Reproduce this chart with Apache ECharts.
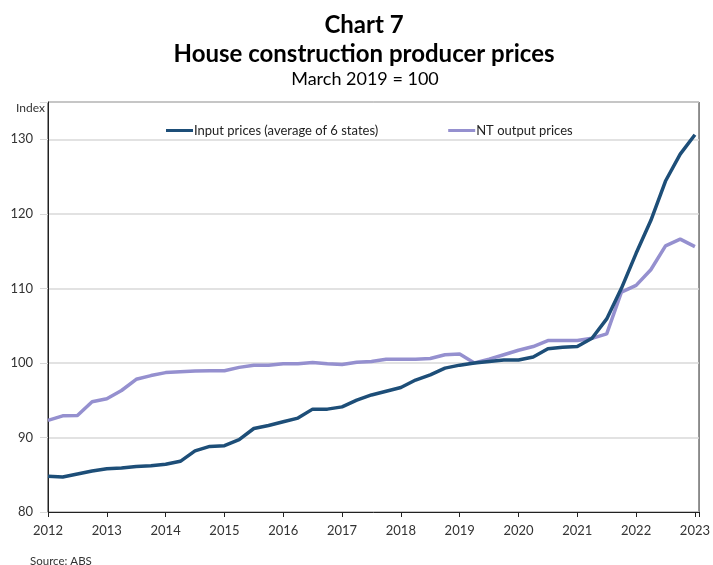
<!DOCTYPE html>
<html>
<head>
<meta charset="utf-8">
<title>Chart 7</title>
<script src="https://cdn.jsdelivr.net/npm/echarts@6/dist/echarts.min.js"></script>
<style>
  html, body { margin: 0; padding: 0; background: #fff; }
  #chart { width: 713px; height: 565px; }
</style>
</head>
<body>
<div id="chart"></div>
<script>
// quarterly index, March 2019 = 100, first point sits on the 2012 tick
var startYear = 2012
var yearTicks = [2012, 2013, 2014, 2015, 2016, 2017, 2018, 2019, 2020, 2021, 2022, 2023]
var seriesNames = ['Input prices (average of 6 states)', 'NT output prices']
var inputPrices = [
  84.8, 84.7, 85.1, 85.5, 85.8, 85.9, 86.1, 86.2, 86.4, 86.8,
  88.2, 88.8, 88.9, 89.7, 91.2, 91.6, 92.1, 92.6, 93.8, 93.8,
  94.1, 95.0, 95.7, 96.2, 96.7, 97.7, 98.4, 99.3, 99.7, 100.0,
  100.2, 100.4, 100.4, 100.8, 101.9, 102.1, 102.2, 103.3, 105.9, 110.0,
  114.7, 119.1, 124.4, 128.0, 130.6
]
var ntOutputPrices = [
  92.3, 92.9, 92.95, 94.8, 95.2, 96.3, 97.8, 98.3, 98.7, 98.8,
  98.9, 98.95, 98.95, 99.4, 99.7, 99.7, 99.9, 99.9, 100.05, 99.9,
  99.8, 100.1, 100.2, 100.5, 100.5, 100.5, 100.6, 101.1, 101.2, 100.0,
  100.5, 101.1, 101.7, 102.2, 103.0, 103.0, 103.0, 103.3, 103.9, 109.5,
  110.4, 112.5, 115.7, 116.6, 115.6
]

function toPoints(values) {
  return values.map(function (v, i) {
    return [startYear + i / 4, v]
  })
}

var font = 'Lato, "Open Sans", sans-serif'
var chart = echarts.init(document.getElementById('chart'))

chart.setOption({
  animation: false,
  textStyle: { fontFamily: font },
  title: [
    {
      text: 'Chart 7',
      left: 359, top: 8, textAlign: 'center',
      textStyle: { fontFamily: font, fontSize: 24, fontWeight: 'bold', color: '#000' }
    },
    {
      text: 'House construction producer prices',
      left: 359, top: 37, textAlign: 'center',
      textStyle: { fontFamily: font, fontSize: 24, fontWeight: 'bold', color: '#000' }
    },
    {
      text: 'March 2019 = 100',
      left: 360, top: 65, textAlign: 'center',
      textStyle: { fontFamily: font, fontSize: 18, fontWeight: 'normal', color: '#000' }
    },
    {
      text: 'Index',
      left: 11, top: 97,
      textStyle: { fontFamily: font, fontSize: 12, fontWeight: 'normal', color: '#333' }
    },
    {
      text: 'Source: ABS',
      left: 25, top: 550,
      textStyle: { fontFamily: font, fontSize: 11.5, fontWeight: 'normal', color: '#333' }
    }
  ],
  legend: {
    data: seriesNames,
    left: 161,
    top: 119,
    icon: 'rect',
    itemWidth: 27,
    itemHeight: 3,
    itemGap: 70,
    textStyle: { fontFamily: font, fontSize: 13, color: '#222', padding: [0, 0, 0, -4] }
  },
  grid: {
    left: 48,
    right: 10,
    top: 102,
    bottom: 53,
    show: true,
    borderColor: '#222',
    borderWidth: 1
  },
  xAxis: {
    type: 'value',
    min: yearTicks[0],
    max: yearTicks[yearTicks.length - 1] + 0.07,
    interval: 1,
    axisLine: { show: true, lineStyle: { color: '#222', width: 1 } },
    axisTick: { show: true, length: 5, lineStyle: { color: '#222' } },
    splitLine: { show: false },
    axisLabel: {
      fontFamily: font,
      fontSize: 13,
      color: '#333',
      margin: 12,
      formatter: function (v) {
        return yearTicks.indexOf(v) >= 0 ? String(v) : ''
      }
    }
  },
  yAxis: {
    type: 'value',
    min: 80,
    max: 135,
    interval: 10,
    axisLine: { show: true, lineStyle: { color: '#222', width: 1 } },
    axisTick: { show: true, length: 8, lineStyle: { color: '#d9d9d9' } },
    splitLine: { show: true, lineStyle: { color: '#d9d9d9', width: 1.5 } },
    axisLabel: {
      fontFamily: font,
      fontSize: 13,
      color: '#333',
      margin: 15,
      formatter: function (v) {
        return v % 10 === 0 ? String(v) : ''
      }
    }
  },
  series: [
    {
      name: seriesNames[0],
      type: 'line',
      data: toPoints(inputPrices),
      showSymbol: false,
      z: 3,
      color: '#1d4e78',
      lineStyle: { width: 3.5, color: '#1d4e78' }
    },
    {
      name: seriesNames[1],
      type: 'line',
      data: toPoints(ntOutputPrices),
      showSymbol: false,
      z: 2,
      color: '#9590cf',
      lineStyle: { width: 3.5, color: '#9590cf' }
    }
  ]
})
</script>
</body>
</html>
